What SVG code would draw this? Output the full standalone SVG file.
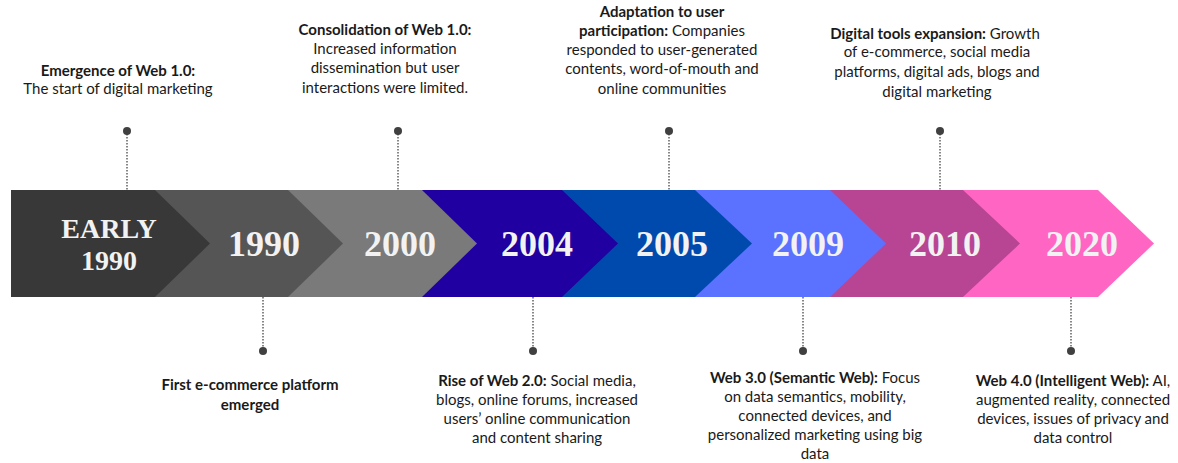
<svg xmlns="http://www.w3.org/2000/svg" width="1178" height="463" viewBox="0 0 1178 463">
<style>
.yr{font-family:"Liberation Serif",serif;font-weight:bold;font-size:36px;fill:#f2f2f2;text-anchor:middle}
.sm{font-size:28px}
.t{font-family:"Lato","Liberation Sans",sans-serif;font-size:15px;fill:#1a1a1a;text-anchor:middle}
.b{font-weight:bold}
.dot{fill:#404040}
.con{stroke:#555;stroke-width:1.4;stroke-dasharray:1.5 1.5;fill:none}
</style>
<rect width="1178" height="463" fill="#fff"/>
<g id="timeline">
<g id="seg-2020"><polygon points="11,190 1098,190 1154,243.5 1098,297 11,297" fill="#ff66c4"/><text class="yr" x="1082" y="256">2020</text></g>
<g id="seg-2010"><polygon points="11,190 963,190 1020,243.5 963,297 11,297" fill="#b84593"/><text class="yr" x="945" y="256">2010</text></g>
<g id="seg-2009"><polygon points="11,190 830,190 886,243.5 830,297 11,297" fill="#5a72ff"/><text class="yr" x="808" y="256">2009</text></g>
<g id="seg-2005"><polygon points="11,190 695,190 752,243.5 695,297 11,297" fill="#004aad"/><text class="yr" x="672" y="256">2005</text></g>
<g id="seg-2004"><polygon points="11,190 562,190 618,243.5 562,297 11,297" fill="#2000a0"/><text class="yr" x="537" y="256">2004</text></g>
<g id="seg-2000"><polygon points="11,190 422,190 477,243.5 422,297 11,297" fill="#7a7a7a"/><text class="yr" x="400" y="256">2000</text></g>
<g id="seg-1990"><polygon points="11,190 288,190 343,243.5 288,297 11,297" fill="#555555"/><text class="yr" x="264" y="256">1990</text></g>
<g id="seg-early1990"><polygon points="11,190 155,190 210,243.5 155,297 11,297" fill="#383838"/><text class="yr sm" x="109" y="238">EARLY</text><text class="yr sm" x="109" y="270">1990</text></g>
</g>
<g id="connectors">
<line class="con" x1="127" y1="131" x2="127" y2="190"/>
<line class="con" x1="398" y1="131" x2="398" y2="190"/>
<line class="con" x1="669" y1="131" x2="669" y2="190"/>
<line class="con" x1="940" y1="131" x2="940" y2="190"/>
<line class="con" x1="263" y1="297" x2="263" y2="351"/>
<line class="con" x1="533" y1="297" x2="533" y2="351"/>
<line class="con" x1="803" y1="297" x2="803" y2="351"/>
<line class="con" x1="1071" y1="297" x2="1071" y2="351"/>
</g>
<g id="ev-web10">
<circle class="dot" cx="127" cy="131" r="4"/>
<text class="t" x="118" y="76"><tspan class="b">Emergence of Web 1.0:</tspan></text>
<text class="t" x="118" y="94">The start of digital marketing</text>
</g>
<g id="ev-consolidation">
<circle class="dot" cx="398" cy="131" r="4"/>
<text class="t" x="385" y="35"><tspan class="b">Consolidation of Web 1.0:</tspan></text>
<text class="t" x="385" y="54">Increased information</text>
<text class="t" x="385" y="73">dissemination but user</text>
<text class="t" x="385" y="93">interactions were limited.</text>
</g>
<g id="ev-adaptation">
<circle class="dot" cx="669" cy="131" r="4"/>
<text class="t" x="662" y="17"><tspan class="b">Adaptation to user</tspan></text>
<text class="t" x="662" y="36"><tspan class="b">participation:</tspan> Companies</text>
<text class="t" x="662" y="55">responded to user-generated</text>
<text class="t" x="662" y="74">contents, word-of-mouth and</text>
<text class="t" x="662" y="94">online communities</text>
</g>
<g id="ev-digitaltools">
<circle class="dot" cx="940" cy="131" r="4"/>
<text class="t" x="935" y="39"><tspan class="b">Digital tools expansion:</tspan>  Growth</text>
<text class="t" x="937" y="57">of e-commerce, social media</text>
<text class="t" x="937" y="77">platforms, digital ads, blogs and</text>
<text class="t" x="937" y="97">digital marketing</text>
</g>
<g id="ev-ecommerce">
<circle class="dot" cx="263" cy="351" r="4"/>
<text class="t b" x="250" y="390">First e-commerce platform</text>
<text class="t b" x="250" y="410">emerged</text>
</g>
<g id="ev-web20">
<circle class="dot" cx="533" cy="351" r="4"/>
<text class="t" x="537" y="386"><tspan class="b">Rise of Web 2.0:</tspan> Social media,</text>
<text class="t" x="537" y="405">blogs, online forums, increased</text>
<text class="t" x="537" y="424">users’ online communication</text>
<text class="t" x="537" y="443">and content sharing</text>
</g>
<g id="ev-web30">
<circle class="dot" cx="803" cy="351" r="4"/>
<text class="t" x="815" y="383"><tspan class="b">Web 3.0 (Semantic Web):</tspan> Focus</text>
<text class="t" x="815" y="402">on data semantics, mobility,</text>
<text class="t" x="815" y="421">connected devices, and</text>
<text class="t" x="815" y="440">personalized marketing using big</text>
<text class="t" x="815" y="459">data</text>
</g>
<g id="ev-web40">
<circle class="dot" cx="1071" cy="351" r="4"/>
<text class="t" x="1073" y="386"><tspan class="b">Web 4.0 (Intelligent Web):</tspan> AI,</text>
<text class="t" x="1073" y="405">augmented reality, connected</text>
<text class="t" x="1073" y="424">devices, issues of privacy and</text>
<text class="t" x="1073" y="443">data control</text>
</g>
</svg>
